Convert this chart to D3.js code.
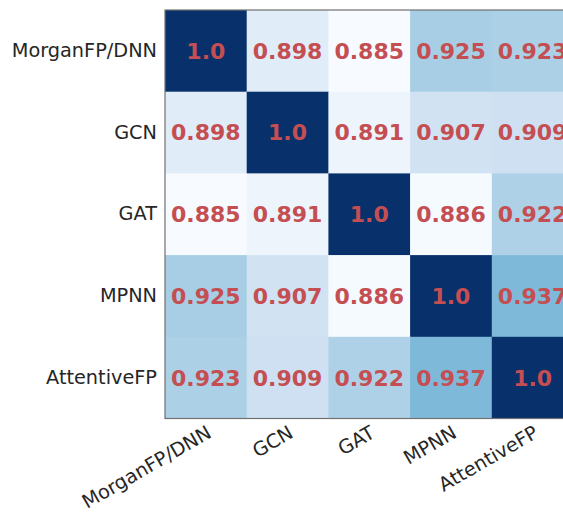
<!DOCTYPE html>
<html>
<head>
<meta charset="utf-8">
<script src="https://cdn.jsdelivr.net/npm/d3@7"></script>
<style>
  html, body { margin: 0; padding: 0; background: #fff; overflow: hidden; }
  svg { display: block; }
</style>
</head>
<body>
<svg id="chart" width="563" height="513"></svg>
<script>
const models = ["MorganFP/DNN", "GCN", "GAT", "MPNN", "AttentiveFP"];
const rowMorgan = [1.0, 0.898, 0.885, 0.925, 0.923];
const rowGCN = [0.898, 1.0, 0.891, 0.907, 0.909];
const rowGAT = [0.885, 0.891, 1.0, 0.886, 0.922];
const rowMPNN = [0.925, 0.907, 0.886, 1.0, 0.937];
const rowAttentive = [0.923, 0.909, 0.922, 0.937, 1.0];
const matrix = [rowMorgan, rowGCN, rowGAT, rowMPNN, rowAttentive];
const blues = ["#f7fbff", "#deebf7", "#c6dbef", "#9ecae1", "#6baed6", "#4292c6", "#2171b5", "#08519c", "#08306b"];

const svg = d3.select("#chart");
const mLeft = 165, mTop = 10, cell = 81.7;
const size = cell * models.length;

const x = d3.scaleBand().domain(models).range([mLeft, mLeft + size]);
const y = d3.scaleBand().domain(models).range([mTop, mTop + size]);

const vmin = d3.min(matrix.flat()), vmax = d3.max(matrix.flat());
const color = d3.scaleLinear()
  .domain(blues.map((_, i) => vmin + (vmax - vmin) * i / (blues.length - 1)))
  .range(blues)
  .interpolate(d3.interpolateRgb)
  .clamp(true);

const cells = [];
matrix.forEach((row, i) => row.forEach((v, j) => cells.push({r: models[i], c: models[j], v})));

svg.append("g").selectAll("rect").data(cells).join("rect")
  .attr("x", d => x(d.c))
  .attr("y", d => y(d.r))
  .attr("width", x.bandwidth() + 0.5)
  .attr("height", y.bandwidth() + 0.5)
  .attr("fill", d => color(d.v));

svg.append("g").selectAll("text").data(cells).join("text")
  .attr("x", d => x(d.c) + x.bandwidth() / 2)
  .attr("y", d => y(d.r) + y.bandwidth() / 2)
  .attr("dy", "0.36em")
  .attr("text-anchor", "middle")
  .attr("font-family", "DejaVu Sans")
  .attr("font-weight", "bold")
  .attr("font-size", 22)
  .attr("fill", "#c44e52")
  .text(d => d.v === 1 ? "1.0" : d.v.toFixed(3));

// frame
svg.append("rect")
  .attr("x", mLeft).attr("y", mTop)
  .attr("width", size).attr("height", size)
  .attr("fill", "none").attr("stroke", "#707070").attr("stroke-width", 1.2);

// y axis
const yAxis = svg.append("g").attr("transform", `translate(${mLeft},0)`)
  .call(d3.axisLeft(y).tickSize(0).tickPadding(8));
yAxis.select(".domain").remove();
yAxis.selectAll("text")
  .attr("font-family", "DejaVu Sans").attr("font-size", 19.3).attr("fill", "#262626");

// x axis
const xAxis = svg.append("g").attr("transform", `translate(0,${mTop + size})`)
  .call(d3.axisBottom(x).tickSize(0).tickPadding(0));
xAxis.select(".domain").remove();
xAxis.selectAll("text")
  .attr("font-family", "DejaVu Sans").attr("font-size", 19.3).attr("fill", "#262626")
  .attr("text-anchor", "end")
  .attr("dy", null).attr("y", 0)
  .attr("transform", "translate(7,18) rotate(-30)");
</script>
</body>
</html>
